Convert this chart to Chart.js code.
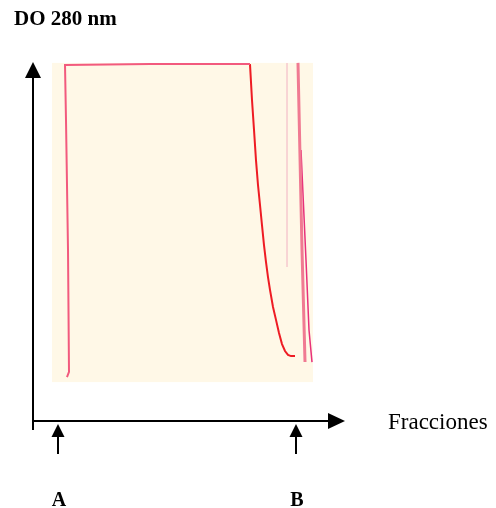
<!DOCTYPE html>
<html>
<head>
<meta charset="utf-8">
<script src="https://cdn.jsdelivr.net/npm/chart.js@4/dist/chart.umd.min.js"></script>
<style>
  html, body { margin: 0; padding: 0; background: #fff; }
  #wrap { width: 496px; height: 508px; }
</style>
</head>
<body>
<div id="wrap"><canvas id="c" width="496" height="508"></canvas></div>
<script>
// ---- data (x = fraction, y = absorbance, arbitrary units) ----
const TITLE = "DO 280 nm";
const X_LABEL = "Fracciones";

// left peak rising edge + plateau (off scale)
const riseX = [11.33, 12.0, 11.67, 11.0, 10.67, 39.0, 72.33];
const riseY = [14.7, 16.4, 57.2, 100.6, 119.0, 119.3, 119.3];

// falling edge after the plateau
const fallX = [72.33, 73.0, 73.67, 74.33, 75.0, 75.67, 76.33, 77.0, 77.67, 78.33, 79.0, 80.0, 81.0, 82.0, 83.0, 84.0, 85.0, 86.0, 87.33];
const fallY = [119.3, 107.3, 97.3, 87.2, 78.9, 72.2, 65.5, 58.8, 53.1, 48.1, 43.8, 38.1, 33.8, 29.4, 25.7, 23.4, 22.1, 21.7, 21.7];

// faint pen line
const ghostX = [84.67, 84.67];
const ghostY = [119.7, 51.5];

// two late spikes
const spike1X = [88.33, 89.67, 90.67];
const spike1Y = [119.7, 57.2, 19.7];
const spike2X = [89.33, 91.0, 92.0, 93.0];
const spike2Y = [90.6, 53.8, 30.4, 19.7];

// scanned paper area
const paperX = [6.33, 93.33];
const paperY = [13.0, 119.7];

// fraction markers under the axis
const markerX = [8.33, 87.67];
const markerLabels = ["A", "B"];

const X_MAX = 104, Y_MAX = 120;

function pts(xs, ys) { return xs.map((x, i) => ({ x, y: ys[i] })); }

const paperPlugin = {
  id: "paper",
  beforeDatasetsDraw(chart) {
    const { ctx, scales: { x, y } } = chart;
    const l = x.getPixelForValue(paperX[0]), r = x.getPixelForValue(paperX[1]);
    const t = y.getPixelForValue(paperY[1]), b = y.getPixelForValue(paperY[0]);
    ctx.save();
    ctx.fillStyle = "#fff8e7";
    ctx.fillRect(l, t, r - l, b - t);
    ctx.restore();
  }
};

function arrowHead(ctx, tipX, tipY, dir, len, half) {
  ctx.beginPath();
  if (dir === "up") {
    ctx.moveTo(tipX, tipY);
    ctx.lineTo(tipX - half, tipY + len);
    ctx.lineTo(tipX + half, tipY + len);
  } else {
    ctx.moveTo(tipX, tipY);
    ctx.lineTo(tipX - len, tipY - half);
    ctx.lineTo(tipX - len, tipY + half);
  }
  ctx.closePath();
  ctx.fill();
}

const axesPlugin = {
  id: "arrows",
  afterDraw(chart) {
    const { ctx, chartArea: a, scales: { x } } = chart;
    ctx.save();
    ctx.strokeStyle = "#000";
    ctx.fillStyle = "#000";
    ctx.lineWidth = 2;
    // y axis
    ctx.beginPath();
    ctx.moveTo(a.left, a.top + 10);
    ctx.lineTo(a.left, a.bottom + 9);
    ctx.stroke();
    arrowHead(ctx, a.left, a.top, "up", 16, 8);
    // x axis
    ctx.beginPath();
    ctx.moveTo(a.left, a.bottom);
    ctx.lineTo(a.right - 10, a.bottom);
    ctx.stroke();
    arrowHead(ctx, a.right, a.bottom, "right", 17, 8);
    // markers
    markerX.forEach((v, i) => {
      const px = x.getPixelForValue(v);
      ctx.beginPath();
      ctx.moveTo(px, a.bottom + 12);
      ctx.lineTo(px, a.bottom + 33);
      ctx.stroke();
      arrowHead(ctx, px, a.bottom + 3, "up", 13, 6.5);
      ctx.font = "bold 20px 'Liberation Serif', serif";
      ctx.textAlign = "center";
      ctx.textBaseline = "alphabetic";
      ctx.fillText(markerLabels[i], px + 1, a.bottom + 85);
    });
    // labels
    ctx.font = "23px 'Liberation Serif', serif";
    ctx.textAlign = "left";
    ctx.fillText(X_LABEL, 388, a.bottom + 8);
    ctx.font = "bold 21px 'Liberation Serif', serif";
    ctx.fillText(TITLE, 14, 25);
    ctx.restore();
  }
};

const line = (data, color, width) => ({
  data, borderColor: color, borderWidth: width, showLine: true,
  pointRadius: 0, fill: false, tension: 0, clip: false
});

new Chart(document.getElementById("c"), {
  type: "scatter",
  data: {
    datasets: [
      line(pts(ghostX, ghostY), "rgba(240,170,190,0.6)", 1.5),
      line(pts(spike1X, spike1Y), "#f07a92", 3),
      line(pts(spike2X, spike2Y), "#e8307a", 1.5),
      line(pts(riseX, riseY), "#f25a7e", 2),
      line(pts(fallX, fallY), "#ee1c24", 2)
    ]
  },
  options: {
    responsive: false,
    animation: false,
    layout: { padding: { left: 33, right: 151, top: 62, bottom: 87 } },
    scales: {
      x: { type: "linear", min: 0, max: X_MAX, display: false },
      y: { type: "linear", min: 0, max: Y_MAX, display: false }
    },
    plugins: { legend: { display: false }, tooltip: { enabled: false } }
  },
  plugins: [paperPlugin, axesPlugin]
});
</script>
</body>
</html>
